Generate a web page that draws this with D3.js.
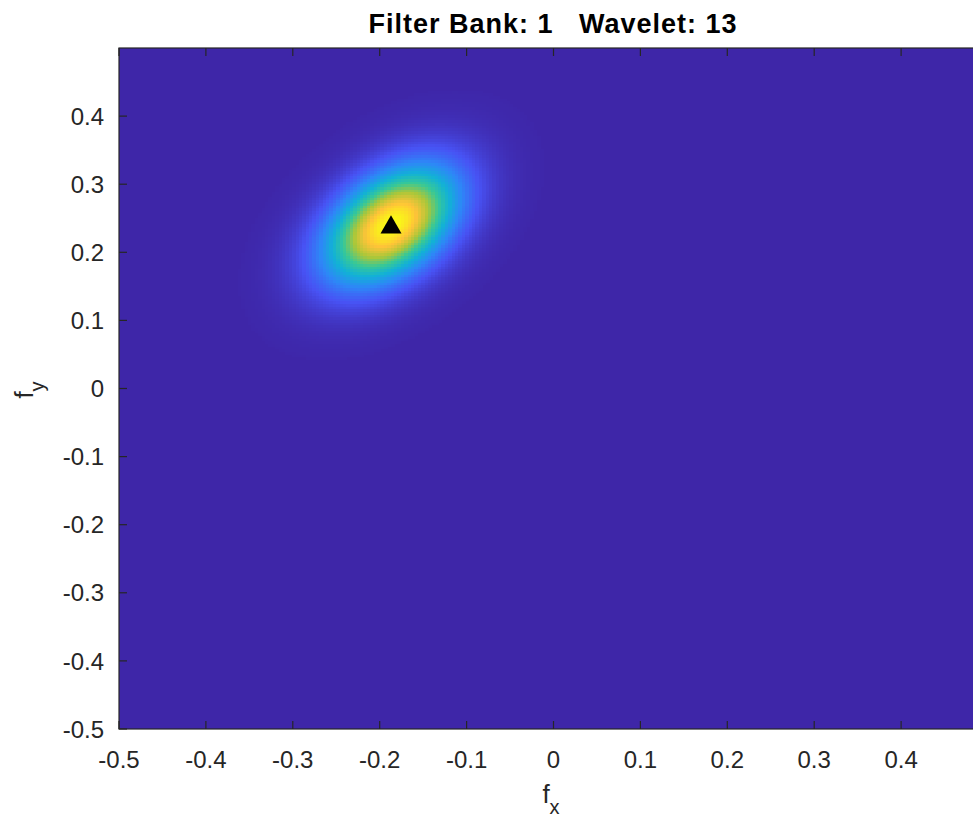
<!DOCTYPE html>
<html>
<head>
<meta charset="utf-8">
<script src="https://cdn.jsdelivr.net/npm/d3@7"></script>
<style>
  html, body { margin: 0; padding: 0; background: #fff; overflow: hidden; }
  svg { display: block; font-family: "Liberation Sans", Arial, Helvetica, sans-serif; }
</style>
</head>
<body>
<svg id="chart" width="973" height="823"></svg>
<script>
// ---- data ----
const titleText = "Filter Bank: 1   Wavelet: 13";
const xTicks = [-0.5, -0.4, -0.3, -0.2, -0.1, 0, 0.1, 0.2, 0.3, 0.4];
const yTicks = [-0.5, -0.4, -0.3, -0.2, -0.1, 0, 0.1, 0.2, 0.3, 0.4];
const xLimits = [-0.5, 0.5];
const yLimits = [-0.5, 0.5];
// wavelet centre frequency (fx, fy) – marked by the triangle
const waveletCenter = [-0.187, 0.241];
// spread of the wavelet response along its major / minor axes (cycles/pixel)
const waveletSpread = [0.066, 0.041];
// orientation of the major axis (degrees, data space)
const waveletOrientation = [53];
// image resolution of the frequency grid
const gridSize = [256];
// parula colour map anchors
const parulaStops = [
  [0.2422, 0.1504, 0.6603], [0.2810, 0.3228, 0.9579], [0.1786, 0.5289, 0.9682],
  [0.0689, 0.6948, 0.8394], [0.2161, 0.7843, 0.5923], [0.6720, 0.7793, 0.2227],
  [0.9970, 0.7659, 0.2199], [0.9769, 0.9839, 0.0805]
];

// ---- layout ----
const svg = d3.select("#chart");
const plot = { left: 119, right: 988, top: 48, bottom: 729 };
const x = d3.scaleLinear().domain(xLimits).range([plot.left, plot.right]);
const y = d3.scaleLinear().domain(yLimits).range([plot.bottom, plot.top]);
const color = d3.scaleLinear()
  .domain(parulaStops.map((_, i) => i / (parulaStops.length - 1)))
  .range(parulaStops.map(c => d3.rgb(c[0] * 255, c[1] * 255, c[2] * 255)))
  .interpolate(d3.interpolateRgb)
  .clamp(true);

// background (zero response)
svg.append("rect")
  .attr("x", x(xLimits[0])).attr("y", y(yLimits[1]))
  .attr("width", x(xLimits[1]) - x(xLimits[0]))
  .attr("height", y(yLimits[0]) - y(yLimits[1]))
  .attr("fill", color(0));

// frequency response cells
const N = gridSize[0];
const step = (xLimits[1] - xLimits[0]) / N;
const th = waveletOrientation[0] * Math.PI / 180;
const cells = [];
for (let i = 0; i < N; i++) {
  for (let j = 0; j < N; j++) {
    const fx = xLimits[0] + i * step, fy = yLimits[0] + j * step;
    const cx = fx + step / 2 - waveletCenter[0], cy = fy + step / 2 - waveletCenter[1];
    const u = cx * Math.cos(th) + cy * Math.sin(th);
    const w = -cx * Math.sin(th) + cy * Math.cos(th);
    const v = Math.exp(-(u * u) / (2 * waveletSpread[0] ** 2) - (w * w) / (2 * waveletSpread[1] ** 2));
    if (v > 0.003) cells.push({ fx, fy, v });
  }
}
svg.append("g").attr("shape-rendering", "crispEdges")
  .selectAll("rect").data(cells).join("rect")
  .attr("x", d => x(d.fx))
  .attr("y", d => y(d.fy + step))
  .attr("width", d => x(d.fx + step) - x(d.fx) + 0.6)
  .attr("height", d => y(d.fy) - y(d.fy + step) + 0.6)
  .attr("fill", d => color(d.v));

// marker
const side = 21;
const h = side * Math.sqrt(3) / 2;
svg.append("path")
  .attr("d", d3.symbol(d3.symbolTriangle, Math.sqrt(3) / 4 * side * side)())
  .attr("transform", `translate(${x(waveletCenter[0])},${y(waveletCenter[1]) + h / 6})`)
  .attr("fill", "#000");

// axes
const axisColor = "#262626";
const tickLen = 8;
const gAx = svg.append("g").attr("stroke", axisColor).attr("stroke-width", 1.2);
xTicks.forEach(t => {
  gAx.append("line").attr("x1", x(t)).attr("x2", x(t)).attr("y1", plot.bottom).attr("y2", plot.bottom - tickLen);
  gAx.append("line").attr("x1", x(t)).attr("x2", x(t)).attr("y1", plot.top).attr("y2", plot.top + tickLen);
});
yTicks.forEach(t => {
  gAx.append("line").attr("x1", plot.left).attr("x2", plot.left + tickLen).attr("y1", y(t)).attr("y2", y(t));
  gAx.append("line").attr("x1", plot.right).attr("x2", plot.right - tickLen).attr("y1", y(t)).attr("y2", y(t));
});
gAx.append("rect")
  .attr("x", plot.left).attr("y", plot.top)
  .attr("width", plot.right - plot.left).attr("height", plot.bottom - plot.top)
  .attr("fill", "none");

const fmt = d3.format(".1f");
const lbl = v => (v === 0 ? "0" : fmt(v)).replace("−", "-");
svg.append("g").selectAll("text").data(xTicks).join("text")
  .attr("x", d => x(d)).attr("y", 768)
  .attr("text-anchor", "middle").attr("font-size", 24).attr("fill", axisColor)
  .text(lbl);
svg.append("g").selectAll("text").data(yTicks).join("text")
  .attr("x", 104).attr("y", d => y(d)).attr("dy", "0.36em")
  .attr("text-anchor", "end").attr("font-size", 24).attr("fill", axisColor)
  .text(lbl);

// axis labels
const xl = svg.append("text").attr("x", 551).attr("y", 803)
  .attr("text-anchor", "middle").attr("font-size", 26).attr("fill", axisColor);
xl.append("tspan").text("f");
xl.append("tspan").attr("font-size", 20).attr("dy", 11).text("x");

const yl = svg.append("text").attr("transform", "translate(33,390) rotate(-90)")
  .attr("text-anchor", "middle").attr("font-size", 26).attr("fill", axisColor);
yl.append("tspan").text("f");
yl.append("tspan").attr("font-size", 20).attr("dy", 11).text("y");

// title
svg.append("text").attr("x", 553).attr("y", 33)
  .attr("text-anchor", "middle").attr("font-size", 27).attr("font-weight", "bold")
  .attr("letter-spacing", 1).attr("fill", "#000").style("white-space", "pre")
  .text(titleText);
</script>
</body>
</html>
